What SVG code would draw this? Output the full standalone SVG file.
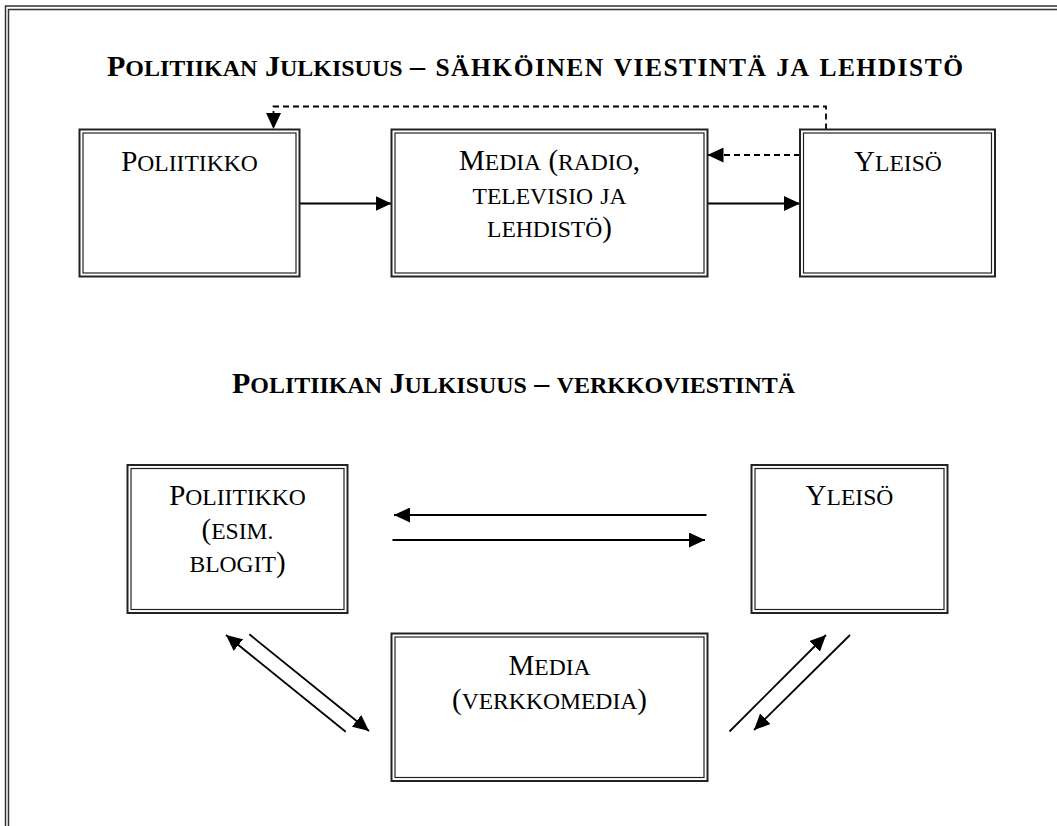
<svg xmlns="http://www.w3.org/2000/svg" width="1057" height="826" viewBox="0 0 1057 826">
<style>
.frame{fill:none;stroke:#333;stroke-width:1.5}
.bo{fill:#fff;stroke:#222;stroke-width:2}
.bi{fill:none;stroke:#222;stroke-width:1.2}
.t{font-family:"Liberation Serif","Times New Roman",serif;font-size:29px;fill:#000}
.s{font-size:23.6px}
.h{font-family:"Liberation Serif","Times New Roman",serif;font-size:30px;font-weight:bold;fill:#000}
.hs{font-size:24px}
.hb{font-size:25.5px}
.ln{fill:none;stroke:#000;stroke-width:1.8}
.dash{stroke-dasharray:6 4}
</style>
<defs>
<marker id="ah" markerUnits="userSpaceOnUse" markerWidth="17" markerHeight="15" refX="16" refY="7.5" orient="auto" viewBox="0 0 17 15">
<path d="M0,0 L16,7.5 L0,15 Z" fill="#000"/>
</marker>
</defs>
<rect width="1057" height="826" fill="#fff"/>
<g id="frame">
<path class="frame" d="M5.5,826 V6 H1057"/>
<path class="frame" d="M8.5,826 V9.5 H1057" stroke="#000"/>
</g>
<g id="titles">
<text class="h" x="107" y="76">P<tspan class="hs">OLITIIKAN</tspan> J<tspan class="hs">ULKISUUS</tspan></text>
<text class="h" x="410" y="76" textLength="553" lengthAdjust="spacing">– <tspan class="hb">SÄHKÖINEN</tspan> <tspan class="hb">VIESTINTÄ</tspan> <tspan class="hb">JA</tspan> <tspan class="hb">LEHDISTÖ</tspan></text>
<text class="h" x="232" y="393" textLength="563" lengthAdjust="spacingAndGlyphs">P<tspan class="hs">OLITIIKAN</tspan> J<tspan class="hs">ULKISUUS</tspan> – <tspan class="hs">VERKKOVIESTINTÄ</tspan></text>
</g>
<g id="connectors">
<path class="ln dash" d="M826,129.5 V106.5 H273.5 V129" marker-end="url(#ah)"/>
<path class="ln dash" d="M800,155 H707.5" marker-end="url(#ah)"/>
<path class="ln" d="M299.5,203.5 H391.5" marker-end="url(#ah)"/>
<path class="ln" d="M707.5,203.5 H800" marker-end="url(#ah)"/>
<path class="ln" d="M706.5,515 H394" marker-end="url(#ah)"/>
<path class="ln" d="M392.5,540 H705" marker-end="url(#ah)"/>
<path class="ln" d="M345.7,731.7 L226,635" marker-end="url(#ah)"/>
<path class="ln" d="M249.3,634.3 L369,731" marker-end="url(#ah)"/>
<path class="ln" d="M729.5,731.5 L826,635" marker-end="url(#ah)"/>
<path class="ln" d="M850,635 L754,730" marker-end="url(#ah)"/>
</g>
<g id="poliitikko1">
<rect class="bo" x="79.5" y="129.5" width="220" height="147"/>
<rect class="bi" x="83" y="133" width="213" height="140"/>
<text class="t" x="189.5" y="171" text-anchor="middle">P<tspan class="s">OLIITIKKO</tspan></text>
</g>
<g id="media1">
<rect class="bo" x="391.5" y="129.5" width="316" height="147"/>
<rect class="bi" x="395" y="133" width="309" height="140"/>
<text class="t" x="549.5" y="170" text-anchor="middle">M<tspan class="s">EDIA</tspan> (<tspan class="s">RADIO</tspan>,</text>
<text class="t" x="549.5" y="203.5" text-anchor="middle"><tspan class="s">TELEVISIO</tspan> <tspan class="s">JA</tspan></text>
<text class="t" x="549.5" y="237" text-anchor="middle"><tspan class="s">LEHDISTÖ</tspan>)</text>
</g>
<g id="yleiso1">
<rect class="bo" x="800" y="129.5" width="195" height="147"/>
<rect class="bi" x="803.5" y="133" width="188" height="140"/>
<text class="t" x="898" y="171" text-anchor="middle">Y<tspan class="s">LEISÖ</tspan></text>
</g>
<g id="poliitikko2">
<rect class="bo" x="127.5" y="465" width="220" height="148"/>
<rect class="bi" x="131" y="468.5" width="213" height="141"/>
<text class="t" x="237.5" y="505" text-anchor="middle">P<tspan class="s">OLIITIKKO</tspan></text>
<text class="t" x="237.5" y="538.5" text-anchor="middle">(<tspan class="s">ESIM.</tspan></text>
<text class="t" x="237.5" y="572" text-anchor="middle"><tspan class="s">BLOGIT</tspan>)</text>
</g>
<g id="yleiso2">
<rect class="bo" x="751.5" y="465" width="196" height="148"/>
<rect class="bi" x="755" y="468.5" width="189" height="141"/>
<text class="t" x="849.5" y="505" text-anchor="middle">Y<tspan class="s">LEISÖ</tspan></text>
</g>
<g id="media2">
<rect class="bo" x="391.5" y="633.5" width="316" height="147.5"/>
<rect class="bi" x="395" y="637" width="309" height="140.5"/>
<text class="t" x="549.5" y="674.5" text-anchor="middle">M<tspan class="s">EDIA</tspan></text>
<text class="t" x="549.5" y="708.5" text-anchor="middle">(<tspan class="s">VERKKOMEDIA</tspan>)</text>
</g>
</svg>
